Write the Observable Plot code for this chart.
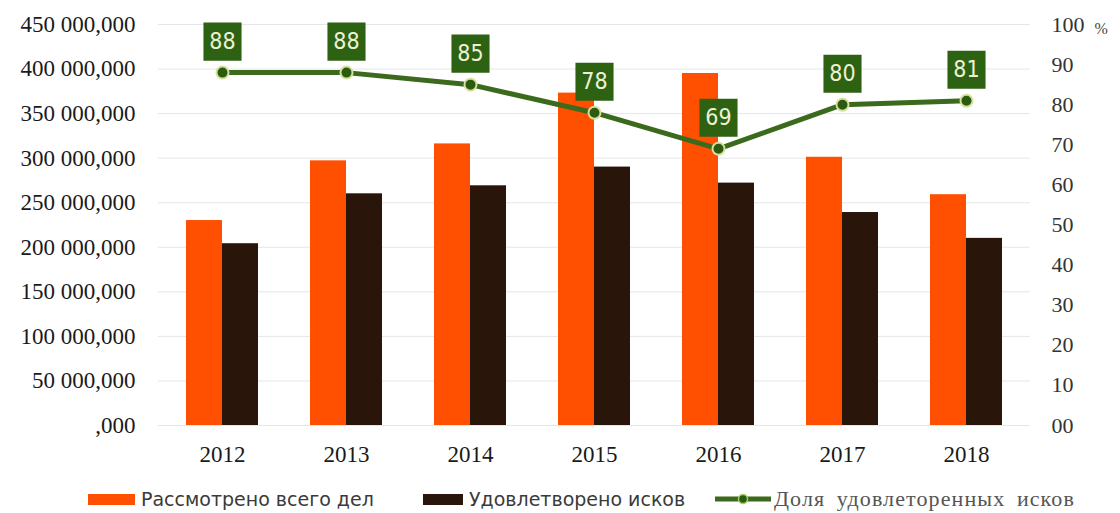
<!DOCTYPE html>
<html>
<head>
<meta charset="utf-8">
<script src="https://cdn.jsdelivr.net/npm/d3@7"></script>
<script src="https://cdn.jsdelivr.net/npm/@observablehq/plot@0.6"></script>
<style>
  html, body { margin: 0; padding: 0; background: #fff; }
  #wrap { position: relative; width: 1120px; height: 513px; overflow: hidden; }
  #legend { position: absolute; left: 0; top: 470px; width: 1120px; height: 43px; }
  .item { position: absolute; top: 14px; display: flex; align-items: center; height: 30px; }
  .sw { display: inline-block; width: 47px; height: 11px; margin-right: 6px; }
  .sans { font-family: "DejaVu Sans", sans-serif; font-size: 19px; color: #3a3a3a; }
  .serif { font-family: "Liberation Serif", serif; font-size: 22px; color: #555; word-spacing: 5px; letter-spacing: 1.1px; }
</style>
</head>
<body>
<div id="wrap">
  <div id="chart"></div>
  <div id="legend"></div>
</div>
<script>
const years = ["2012", "2013", "2014", "2015", "2016", "2017", "2018"];
const considered = [230e6, 297e6, 316e6, 373e6, 395e6, 301e6, 259e6];
const satisfied = [204e6, 260e6, 269e6, 290e6, 272e6, 239e6, 210e6];
const sharePct = [88, 88, 85, 78, 69, 80, 81];

const leftTicks = [0, 50e6, 100e6, 150e6, 200e6, 250e6, 300e6, 350e6, 400e6, 450e6];
const leftTickLabels = [",000", "50 000,000", "100 000,000", "150 000,000", "200 000,000",
  "250 000,000", "300 000,000", "350 000,000", "400 000,000", "450 000,000"];
const rightTicks = [0, 10, 20, 30, 40, 50, 60, 70, 80, 90, 100];
const rightTickLabels = ["00", "10", "20", "30", "40", "50", "60", "70", "80", "90", "100"];

const seriesNames = ["Рассмотрено всего дел", "Удовлетворено исков", "Доля  удовлетоpенных исков"];
const colors = { considered: "#ff4f00", satisfied: "#2a150b", line: "#3b6a1c", box: "#2d6212" };

const Y_MAX = 450e6, PCT_MAX = 100;
const pctToY = p => p * Y_MAX / PCT_MAX;
const SERIF = "Liberation Serif, serif";

const data = years.map((year, i) => ({
  year, considered: considered[i], satisfied: satisfied[i], share: sharePct[i]
}));

const chart = Plot.plot({
  width: 1120,
  height: 470,
  marginTop: 24,
  marginBottom: 45,
  marginLeft: 158,
  marginRight: 90,
  style: { background: "#fff" },
  x: { type: "band", domain: years, paddingInner: 0.4226, paddingOuter: 0.208, axis: null, label: null },
  y: { domain: [0, Y_MAX], axis: null, label: null },
  marks: [
    Plot.gridY(leftTicks, { stroke: "#e6e6e6", strokeOpacity: 1 }),
    Plot.barY(data, { x: "year", y: "considered", fill: colors.considered, insetRight: 36 }),
    Plot.barY(data, { x: "year", y: "satisfied", fill: colors.satisfied, insetLeft: 36 }),
    Plot.axisX(years, { anchor: "bottom", tickSize: 0, tickPadding: 20, fill: "#1a1a1a", label: null,
      fontFamily: SERIF, fontSize: 23 }),
    Plot.axisY(leftTicks, {
      anchor: "left", tickSize: 0, tickPadding: 23, fill: "#1a1a1a", label: null,
      fontFamily: SERIF, fontSize: 23,
      tickFormat: d => leftTickLabels[leftTicks.indexOf(d)]
    }),
    Plot.axisY(rightTicks.map(pctToY), {
      anchor: "right", tickSize: 0, tickPadding: 21, fill: "#333", label: null,
      fontFamily: SERIF, fontSize: 22,
      tickFormat: d => rightTickLabels[rightTicks.map(pctToY).indexOf(d)]
    }),
    Plot.text(["%"], { frameAnchor: "top-right", dx: 64, dy: -2, fontSize: 16, textAnchor: "start",
      fill: "#444", fontFamily: SERIF }),
    Plot.line(data, { x: "year", y: d => pctToY(d.share), stroke: colors.line, strokeWidth: 5 }),
    Plot.dot(data, { x: "year", y: d => pctToY(d.share), r: 6, fill: "#2b5a10", stroke: "#d4e09c", strokeWidth: 2 }),
    Plot.dot(data, { x: "year", y: d => pctToY(d.share), symbol: "square", r: 21.5, fill: colors.box, dy: -31 }),
    Plot.text(data, {
      x: "year", y: d => pctToY(d.share), text: d => String(d.share), dy: -31,
      fill: "#eef0d6", fontSize: 23, fontFamily: "DejaVu Sans Condensed, Liberation Sans Narrow, sans-serif"
    })
  ]
});
document.getElementById("chart").appendChild(chart);

// Legend
const legend = document.getElementById("legend");
function addItem(left, swatchHtml, text, cls) {
  const div = document.createElement("div");
  div.className = "item";
  div.style.left = left + "px";
  div.innerHTML = swatchHtml + `<span class="${cls}">${text}</span>`;
  legend.appendChild(div);
}
addItem(88, `<span class="sw" style="background:${colors.considered}"></span>`, seriesNames[0], "sans");
addItem(423, `<span class="sw" style="background:${colors.satisfied};width:40px"></span>`, seriesNames[1], "sans");
addItem(714, `<svg width="58" height="14" style="margin-right:2px"><line x1="1" x2="57" y1="7" y2="7" stroke="${colors.line}" stroke-width="5"/><circle cx="29" cy="7" r="4.5" fill="#2b5a10" stroke="#9fd060" stroke-width="1.5"/></svg>`, seriesNames[2], "serif");
</script>
</body>
</html>
